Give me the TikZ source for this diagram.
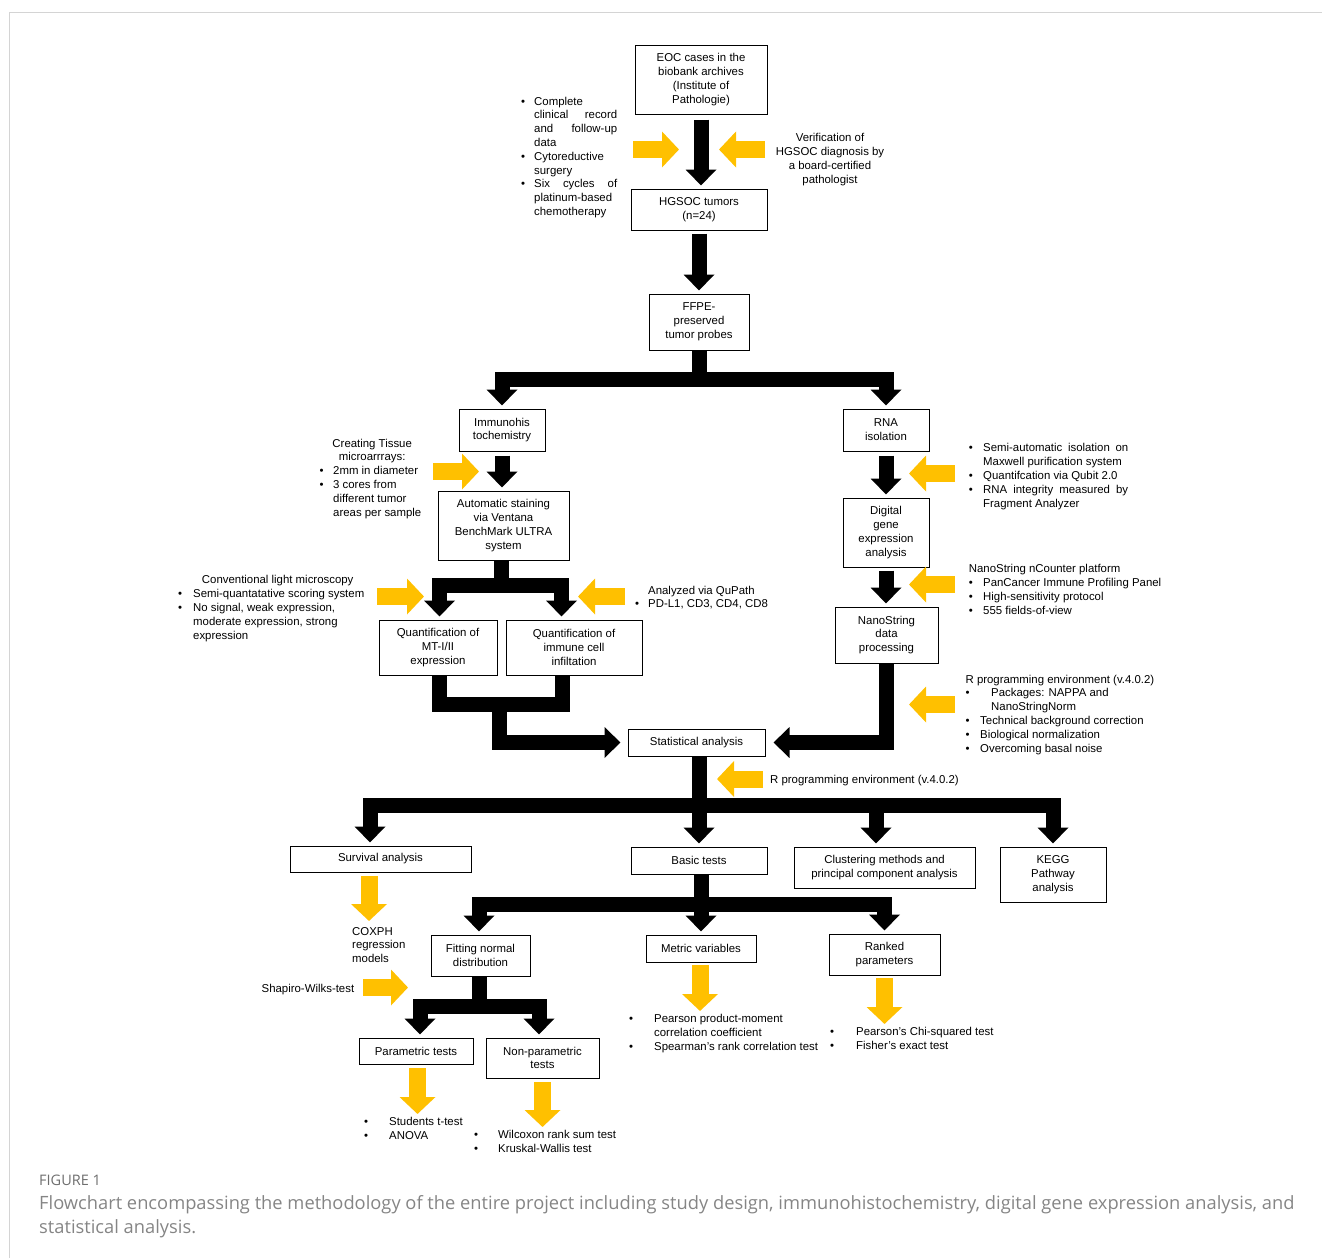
\documentclass[tikz,border=0pt]{standalone}
\usepackage{fontspec}
\setmainfont{Liberation Sans}
\newfontfamily\capfont{Open Sans}
\usetikzlibrary{positioning,arrows.meta}
\definecolor{gold}{HTML}{FFC000}
\definecolor{framegray}{HTML}{D4D4D4}
\definecolor{capgray}{HTML}{858585}
\definecolor{fignumgray}{HTML}{6E6E6E}
\newcommand{\figfont}{\fontsize{11.4}{13.8}\selectfont}
\newcommand{\blt}[1][13pt]{\makebox[#1][l]{\textbullet}}
\newcommand{\bind}[1][13pt]{\hspace*{#1}}
\newcommand{\jline}[2]{\makebox[#1][s]{#2}}

\begin{document}
\begin{tikzpicture}[x=1pt, y=-1pt,
    box/.style={draw, line width=1pt, align=center, inner sep=0pt, font=\figfont},
    note/.style={inner sep=0pt, align=left, font=\figfont},
    blk/.style={line width=15pt, shorten >=3pt, -{Triangle[width=30pt,length=16pt]}},
    blkline/.style={line width=15pt},
    goldarr/.style={draw=gold, line width=17pt, -{Triangle[width=35pt,length=17pt]}}]
\useasboundingbox (0,0) rectangle (1322,1258);
\draw[framegray, line width=1.5pt] (9.5,1258) -- (9.5,12.5) -- (1322,12.5);

% boxes
\node[box, minimum width=132pt, minimum height=69pt] (eoc) at (701,79.5) {EOC cases in the\\biobank archives\\(Institute of\\Pathologie)};
\node[box, minimum width=136pt, minimum height=41pt, below=74pt of eoc, xshift=-2pt] (hgsoc) {HGSOC tumors\\(n=24)};
\node[box, minimum width=100pt, minimum height=56pt, below=63pt of hgsoc] (ffpe) {FFPE-\\preserved\\tumor probes};
\node[box, minimum width=86pt, minimum height=42pt] (ihc) at (502,430) {Immunohis\\tochemistry};
\node[box, minimum width=86pt, minimum height=42pt] (rna) at (886,430) {RNA\\isolation};
\node[box, minimum width=131pt, minimum height=69pt, below=39pt of ihc, xshift=1.5pt] (stain) {Automatic staining\\via Ventana\\BenchMark ULTRA\\system};
\node[box, minimum width=86pt, minimum height=69pt, below=46pt of rna] (dge) {Digital\\gene\\expression\\analysis};
\node[box, minimum width=103pt, minimum height=56pt, below=39pt of dge, xshift=0.5pt] (nano) {NanoString\\data\\processing};
\node[box, minimum width=118pt, minimum height=55pt] (qmt) at (438,647.5) {Quantification of\\MT-I/II\\expression};
\node[box, minimum width=136pt, minimum height=55pt] (qimm) at (574,647.5) {Quantification of\\immune cell\\infiltation};
\node[box, minimum width=137pt, minimum height=27pt] (stat) at (696.5,742.5) {Statistical analysis};
\node[box, minimum width=181pt, minimum height=26pt] (surv) at (380.5,859) {Survival analysis};
\node[box, minimum width=136pt, minimum height=27pt] (basic) at (699,860.5) {Basic tests};
\node[box, minimum width=181pt, minimum height=41pt] (clust) at (884.5,867.5) {Clustering methods and\\principal component analysis};
\node[box, minimum width=106pt, minimum height=55pt] (kegg) at (1053,874.5) {KEGG\\Pathway\\analysis};
\node[box, minimum width=99pt, minimum height=41pt] (fit) at (480.5,955.5) {Fitting normal\\distribution};
\node[box, minimum width=110pt, minimum height=27pt] (metric) at (701,948.5) {Metric variables};
\node[box, minimum width=111pt, minimum height=41pt] (ranked) at (884.5,954.5) {Ranked\\parameters};
\node[box, minimum width=114pt, minimum height=26pt] (param) at (416,1051) {Parametric tests};
\node[box, minimum width=113pt, minimum height=40pt] (nonpar) at (542.5,1058) {Non-parametric\\tests};

% black connectors
\draw[blk, shorten <=5pt] (eoc.south) -- (eoc.south |- hgsoc.north);
\draw[blk, shorten <=3pt] (hgsoc.south) -- (hgsoc.south |- ffpe.north);
\coordinate (splitA) at (699,379.5);
\draw[blk] (ffpe.south) -- (splitA) -| (ihc.north);
\draw[blk] (splitA) -| (rna.north);
\draw[blk, shorten <=4pt] (ihc.south) -- (ihc.south |- stain.north);
\draw[blk, shorten <=4pt] (rna.south) -- (dge.north);
\coordinate (splitB) at (501,585);
\draw[blk] (splitB |- stain.south) -- (splitB) -| ([xshift=1.5pt]qmt.north);
\draw[blk] (splitB) -| ([xshift=-12.5pt]qimm.north);
\draw[blk, shorten <=3pt] (dge.south) -- (dge.south |- nano.north);
\coordinate (mergeA) at (499,704.5);
\draw[blkline] ([xshift=1.5pt]qmt.south) |- (mergeA) -| ([xshift=-12pt]qimm.south);
\draw[blk, shorten >=7pt] (mergeA) |- (stat.west);
\draw[blk, shorten >=8pt] (nano.south) |- (stat.east);
\coordinate (splitC) at (699,805);
\draw[blk] (splitC |- stat.south) -- (splitC) -| ([xshift=-10.5pt]surv.north);
\draw[blk] (splitC) -- (basic.north);
\draw[blk] (splitC) -| ([xshift=-8.5pt]clust.north);
\draw[blk] (splitC) -| (kegg.north);
\coordinate (splitD) at (701,904);
\draw[blk] (splitD |- basic.south) -- (splitD) -| ([xshift=-1.5pt]fit.north);
\draw[blk] (splitD) -- (metric.north);
\draw[blk] (splitD) -| (ranked.north);
\coordinate (splitE) at (479.5,1006.5);
\draw[blk] (splitE |- fit.south) -- (splitE) -| ([xshift=4pt]param.north);
\draw[blk] (splitE) -| ([xshift=-3.5pt]nonpar.north);

% gold arrows
\coordinate (gCrit) at (633,149.5);
\coordinate (gVerif) at (765,149.5);
\coordinate (gTma) at (433,471.5);
\coordinate (gRnaIso) at (955,473.5);
\coordinate (gMicro) at (377,596.5);
\coordinate (gQupath) at (625,596.5);
\coordinate (gCounter) at (955,584.5);
\coordinate (gNorm) at (955,704.5);
\coordinate (gRstat) at (763,779);
\coordinate (gCox) at (369,876);
\coordinate (gShapiro) at (363,987.5);
\coordinate (gPtest) at (417.5,1068);
\coordinate (gNptest) at (542.5,1082);
\coordinate (gCorr) at (700,965);
\coordinate (gChisq) at (884.5,978);
\draw[goldarr] (gCrit) -- ++(46,0);
\draw[goldarr] (gVerif) -- ++(-46,0);
\draw[goldarr] (gTma) -- ++(46,0);
\draw[goldarr] (gRnaIso) -- ++(-46,0);
\draw[goldarr] (gMicro) -- ++(47,0);
\draw[goldarr] (gQupath) -- ++(-47,0);
\draw[goldarr] (gCounter) -- ++(-46,0);
\draw[goldarr] (gNorm) -- ++(-46,0);
\draw[goldarr] (gRstat) -- ++(-46,0);
\draw[goldarr] (gCox) -- ++(0,45);
\draw[goldarr] (gShapiro) -- ++(45,0);
\draw[goldarr] (gPtest) -- ++(0,46);
\draw[goldarr] (gNptest) -- ++(0,45);
\draw[goldarr] (gCorr) -- ++(0,46);
\draw[goldarr] (gChisq) -- ++(0,46);

% annotations
\node[note, anchor=north west] (crit) at (521,96.7) {\blt Complete\\
  \bind\jline{83pt}{clinical record}\\
  \bind\jline{83pt}{and follow-up}\\
  \bind data\\
  \blt Cytoreductive\\
  \bind surgery\\
  \blt\jline{83pt}{Six cycles of}\\
  \bind platinum-based\\
  \bind chemotherapy};
\node[note, align=center, anchor=north] (verif) at (830,133.5) {Verification of\\HGSOC diagnosis by\\a board-certified\\pathologist};
\node[note, anchor=north west] (tma) at (319.5,438.7) {\makebox[105pt]{Creating Tissue}\\
  \makebox[105pt]{microarrrays:}\\
  \blt[13.5pt]2mm in diameter\\
  \blt[13.5pt]3 cores from\\
  \bind[13.5pt]different tumor\\
  \bind[13.5pt]areas per sample};
\node[note, anchor=north west] (rnaiso) at (968.7,443.5) {\blt[14.3pt]\jline{145pt}{Semi-automatic isolation on}\\
  \bind[14.3pt]Maxwell purification system\\
  \blt[14.3pt]Quantifcation via Qubit 2.0\\
  \blt[14.3pt]\jline{145pt}{RNA integrity measured by}\\
  \bind[14.3pt]Fragment Analyzer};
\node[note, anchor=north west] (counter) at (968.7,564.5) {NanoString nCounter platform\\
  \blt[14.3pt]PanCancer Immune Profiling Panel\\
  \blt[14.3pt]High-sensitivity protocol\\
  \blt[14.3pt]555 fields-of-view};
\node[note, anchor=north west] (micro) at (178,575.5) {\makebox[199pt]{Conventional light microscopy}\\
  \blt[15pt]Semi-quantatative scoring system\\
  \blt[15pt]No signal, weak expression,\\
  \bind[15pt]moderate expression, strong\\
  \bind[15pt]expression};
\node[note, anchor=north west] (qupath) at (635,585.7) {\bind[13pt]Analyzed via QuPath\\
  \blt[13pt]PD-L1, CD3, CD4, CD8};
\node[note, anchor=north west] (rnorm) at (965.4,674.7) {R programming environment (v.4.0.2)\\
  \blt[25.6pt]Packages: NAPPA and\\
  \bind[25.6pt]NanoStringNorm\\
  \blt[14.6pt]Technical background correction\\
  \blt[14.6pt]Biological normalization\\
  \blt[14.6pt]Overcoming basal noise};
\node[note, anchor=base west] (rstat) at (770,783) {R programming environment (v.4.0.2)};
\node[note, anchor=north west] (coxph) at (352,927) {COXPH\\regression\\models};
\node[note, anchor=base west] (shapiro) at (261.5,992.5) {Shapiro-Wilks-test};
\node[note, anchor=north west] (ptests) at (364,1117.5) {\blt[25pt]Students t-test\\
  \blt[25pt]ANOVA};
\node[note, anchor=north west] (nptests) at (474,1130) {\blt[24pt]Wilcoxon rank sum test\\
  \blt[24pt]Kruskal-Wallis test};
\node[note, anchor=north west] (corr) at (629,1014.5) {\blt[25pt]Pearson product-moment\\
  \bind[25pt]correlation coefficient\\
  \blt[25pt]Spearman’s rank correlation test};
\node[note, anchor=north west] (chisq) at (830,1027.5) {\blt[26pt]Pearson’s Chi-squared test\\
  \blt[26pt]Fisher’s exact test};

% caption
\node[anchor=base west, inner sep=0pt, text=fignumgray, font=\capfont\fontsize{14.5}{17}\selectfont] (fignum) at (39,1185.5) {FIGURE 1};
\node[anchor=north west, inner sep=0pt, align=left, text=capgray, font=\capfont\fontsize{18.3}{24.5}\selectfont] (caption) at (39,1195) {Flowchart encompassing the methodology of the entire project including study design, immunohistochemistry, digital gene expression analysis, and\\statistical analysis.};
\end{tikzpicture}
\end{document}
